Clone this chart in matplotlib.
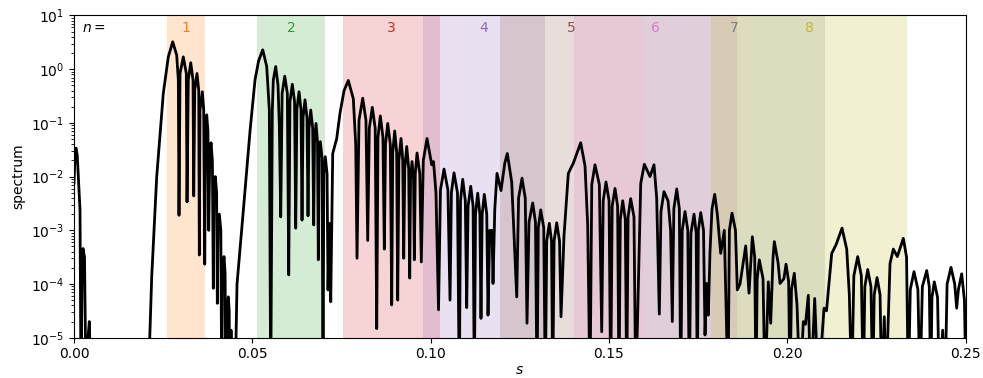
import numpy as np
import matplotlib
matplotlib.use("Agg")
from matplotlib import pyplot as plt
from matplotlib import transforms

# band edges (s) for each n
band_n = [1, 2, 3, 4, 5, 6, 7, 8]
band_lo = [0.0261, 0.0513, 0.0754, 0.0979, 0.1195, 0.1402, 0.1596, 0.1786]
band_hi = [0.0367, 0.0704, 0.1026, 0.1321, 0.1596, 0.1859, 0.2106, 0.2336]
band_colors = ['C1', 'C2', 'C3', 'C4', 'C5', 'C6', 'C7', 'C8']

# spectrum: s and log10(spectrum); -6 = below the axis
s = [0.0, 0.0003, 0.00056, 0.0009, 0.00121, 0.00168, 0.00196, 0.00224, 0.00252, 0.00294, 0.00337, 0.00393, 0.00429, 0.00477,
     0.02075, 0.02179, 0.02319, 0.02504, 0.02644, 0.02768, 0.02880, 0.02925, 0.02944,
     0.02973, 0.03065, 0.03149, 0.03169, 0.03205, 0.03273, 0.03337, 0.03357,
     0.03385, 0.03449, 0.03497, 0.03514, 0.03533, 0.03598, 0.03637, 0.03665,
     0.03693, 0.03721, 0.03755, 0.03777, 0.03805, 0.03842, 0.03880, 0.03906,
     0.03925, 0.03962, 0.03999, 0.04019, 0.04038, 0.04075, 0.04117, 0.04142,
     0.04164, 0.04206, 0.04237, 0.04254, 0.04300, 0.04327, 0.04352, 0.04366, 0.04403, 0.04445,
     0.04515, 0.04571, 0.04739, 0.04936, 0.05076, 0.05174, 0.05292, 0.05404, 0.05477, 0.05516,
     0.05561, 0.05589, 0.05656, 0.05721, 0.05758, 0.05797,
     0.05836, 0.05909, 0.05982, 0.06021, 0.06056, 0.06122, 0.06184, 0.06217,
     0.06250, 0.06310, 0.06365, 0.06394, 0.06423, 0.06478, 0.06533, 0.06562,
     0.06589, 0.06638, 0.06693, 0.06722, 0.06744, 0.06786, 0.06828, 0.06851,
     0.06871, 0.06907, 0.06956, 0.06983, 0.07005, 0.07047, 0.07096, 0.07123, 0.07159, 0.07199,
     0.07255, 0.07367, 0.07459, 0.07572, 0.07692, 0.07832, 0.07900, 0.07936,
     0.07992, 0.08096, 0.08187, 0.08236, 0.08281, 0.08365, 0.08446, 0.08489,
     0.08524, 0.08590, 0.08663, 0.08702, 0.08735, 0.08797, 0.08870, 0.08909,
     0.08938, 0.08993, 0.09048, 0.09077, 0.09110, 0.09170, 0.09219, 0.09246,
     0.09275, 0.09330, 0.09385, 0.09414, 0.09437, 0.09479, 0.09521, 0.09543,
     0.09570, 0.09619, 0.09697, 0.09739, 0.09795, 0.09899, 0.10031, 0.10081, 0.10150, 0.10222,
     0.10276, 0.10376, 0.10485, 0.10544, 0.10583, 0.10656, 0.10753, 0.10805,
     0.10838, 0.10900, 0.10973, 0.11012, 0.11051, 0.11125, 0.11191, 0.11226,
     0.11259, 0.11321, 0.11381, 0.11413, 0.11446, 0.11506, 0.11574, 0.11610,
     0.11657, 0.11694, 0.11722, 0.11750, 0.11800, 0.11862, 0.11974, 0.12080, 0.12151, 0.12274, 0.12348, 0.12415,
     0.12467, 0.12563, 0.12654, 0.12703, 0.12759, 0.12863, 0.12941, 0.12984,
     0.13020, 0.13088, 0.13172, 0.13217, 0.13256, 0.13329, 0.13391, 0.13424,
     0.13463, 0.13536, 0.13615, 0.13657, 0.13741, 0.13862, 0.14002, 0.14209, 0.14330, 0.14405, 0.14470,
     0.14519, 0.14610, 0.14732, 0.14798, 0.14840, 0.14919, 0.15004, 0.15050,
     0.15092, 0.15171, 0.15244, 0.15283, 0.15319, 0.15387, 0.15460, 0.15499,
     0.15538, 0.15611, 0.15703, 0.15752, 0.15802, 0.15892, 0.15993, 0.16153, 0.16265, 0.16340, 0.16414,
     0.16460, 0.16545, 0.16658, 0.16730, 0.16778,
     0.16821, 0.16902, 0.16975, 0.17014, 0.17056, 0.17134, 0.17212, 0.17255,
     0.17301, 0.17387, 0.17447, 0.17479, 0.17509, 0.17575, 0.17653, 0.17695, 0.17743, 0.17788,
     0.17835, 0.17891, 0.17967, 0.18040, 0.18135, 0.18236, 0.18340,
     0.18379, 0.18452, 0.18549, 0.18601, 0.18677, 0.18836, 0.18929, 0.19022, 0.19089, 0.19125,
     0.19158, 0.19218, 0.19322, 0.19378, 0.19470, 0.19537, 0.19603, 0.19639, 0.19743, 0.19798,
     0.19908, 0.19967, 0.20040, 0.20079, 0.20120, 0.20199, 0.20275, 0.20359,
     0.20452, 0.20513, 0.20592, 0.20659, 0.20771, 0.20872, 0.21032, 0.21102,
     0.21248, 0.21369, 0.21537, 0.21669, 0.21742, 0.21809,
     0.21868, 0.21977, 0.22079, 0.22134, 0.22177, 0.22258, 0.22349, 0.22398,
     0.22440, 0.22519, 0.22604, 0.22650, 0.22723, 0.22771,
     0.22883, 0.22976, 0.23088, 0.23256, 0.23347, 0.23396,
     0.23452, 0.23556, 0.23665, 0.23724, 0.23790, 0.23912, 0.23985, 0.24024,
     0.24059, 0.24125, 0.24216, 0.24265, 0.24360, 0.24425,
     0.24484, 0.24593, 0.24697, 0.24753, 0.24802, 0.24893, 0.24970, 0.25014]

log_spec = [-2.12, -1.55, -1.47, -1.6, -2.0, -2.62, -6, -3.9, -3.34, -3.5, -6, -5.0, -4.70, -6,
            -6, -3.86, -2.0, -0.45, 0.23, 0.51, 0.26, -0.20, -2.72,
            -0.08, 0.23, -0.08, -2.47, -0.2, 0.12, -0.2, -2.36,
            -0.39, -0.08, -0.39, -3.46, -0.76, -0.42, -0.76, -3.63,
            -1.13, -0.85, -1.15, -3.0, -1.7, -1.37, -1.7, -4.08,
            -2.3, -2.0, -2.3, -4.36, -3.0, -2.70, -3.0, -6,
            -3.8, -3.49, -3.8, -6, -4.5, -4.24, -4.5, -6, -4.86, -6,
            -6, -4.0, -2.7, -1.15, -0.2, 0.15, 0.36, 0.05, -0.76, -6,
            -0.76, -0.2, 0.05, -0.3, -1.07, -2.75,
            -0.45, -0.13, -0.45, -3.83, -0.6, -0.28, -0.6, -2.96,
            -0.75, -0.42, -0.75, -2.81, -0.9, -0.57, -0.9, -2.73,
            -1.1, -0.76, -1.1, -2.90, -1.35, -1.01, -1.35, -3.55,
            -1.65, -1.35, -1.65, -6, -1.95, -1.63, -1.95, -4.11, -2.87, -4.33,
            -1.57, -1.29, -0.82, -0.4, -0.21, -0.55, -1.4, -3.52,
            -0.95, -0.54, -0.95, -3.19, -1.1, -0.71, -1.1, -4.83,
            -1.27, -0.87, -1.27, -3.35, -1.4, -1.01, -1.4, -4.39,
            -1.55, -1.15, -1.55, -4.30, -1.7, -1.29, -1.7, -3.52,
            -1.85, -1.44, -1.85, -3.89, -2.05, -1.72, -2.05, -3.55,
            -1.95, -1.56, -1.95, -3.59, -1.7, -1.29, -1.78, -1.72, -2.3, -4.48,
            -2.25, -1.86, -2.25, -4.30, -2.3, -1.93, -2.3, -6,
            -2.45, -2.05, -2.45, -4.44, -2.55, -2.18, -2.55, -6,
            -2.7, -2.31, -2.7, -4.64, -2.7, -2.33, -2.7, -4.58,
            -3.0, -3.2, -3.0, -3.99, -2.6, -1.94, -2.26, -1.75, -1.57, -2.1, -3.2, -4.24,
            -2.4, -2.03, -2.4, -4.73, -2.85, -2.49, -2.85, -6,
            -2.95, -2.62, -2.95, -6, -3.2, -2.87, -3.2, -6,
            -3.2, -2.86, -3.2, -4.61, -3.1, -1.94, -1.75, -1.37, -1.8, -2.9, -6,
            -2.15, -1.78, -2.15, -4.89, -2.45, -2.10, -2.45, -6,
            -2.55, -2.22, -2.55, -6, -2.8, -2.45, -2.8, -6,
            -2.75, -2.41, -2.75, -6, -4.7, -2.13, -1.77, -2.0, -1.78, -2.4, -4.56,
            -2.65, -2.28, -2.45, -3.0, -4.70,
            -2.6, -2.23, -2.6, -6, -3.0, -2.65, -3.0, -6,
            -3.05, -2.70, -3.05, -6, -3.0, -2.67, -3.0, -4.95, -3.99, -4.58,
            -3.4, -2.6, -2.33, -2.7, -3.43, -3.0, -6,
            -3.0, -2.68, -3.0, -4.11, -4.0, -3.29, -4.17, -3.12, -3.5, -6,
            -3.9, -3.55, -3.9, -6, -3.96, -4.73, -3.5, -3.21, -3.6, -3.99,
            -3.9, -3.63, -3.95, -6, -4.1, -3.80, -4.39, -6,
            -4.70, -4.75, -4.21, -6, -4.27, -6, -4.45, -4.5,
            -3.43, -3.27, -2.96, -3.35, -4.2, -6,
            -3.85, -3.49, -3.85, -6, -4.05, -3.73, -4.05, -6,
            -4.2, -3.88, -4.2, -6, -4.61, -6,
            -3.62, -3.35, -3.49, -3.15, -3.5, -6,
            -4.1, -3.77, -4.1, -6, -4.05, -3.75, -4.05, -6,
            -4.25, -3.96, -4.25, -6, -4.86, -6,
            -4.0, -3.69, -4.0, -4.45, -4.1, -3.81, -4.3, -6]

spectrum = 10.0 ** np.array(log_spec)

fig = plt.figure(figsize=(9.83, 3.78), dpi=100)
ax = fig.add_axes([0.0753, 0.1066, 0.9069, 0.8524])

trans = transforms.blended_transform_factory(ax.transData, ax.transAxes)
for n, lo, hi, c in zip(band_n, band_lo, band_hi, band_colors):
    ax.axvspan(lo, hi, color=c, alpha=0.2, lw=0)
    ax.text((lo + hi) / 2, 0.96, str(n), color=c, transform=trans,
            ha='center', va='center', fontsize=10)
ax.text(0.009, 0.96, '$n=$', transform=ax.transAxes, ha='left', va='center', fontsize=10)

ax.plot(s, spectrum, color='black', lw=2)

ax.set_yscale('log')
ax.set_xlim(0, 0.25)
ax.set_ylim(1e-5, 1e1)
ax.set_xticks([0.0, 0.05, 0.10, 0.15, 0.20, 0.25])
ax.set_xticklabels(['0.00', '0.05', '0.10', '0.15', '0.20', '0.25'])
ax.set_xlabel('$s$', labelpad=1)
ax.set_ylabel('spectrum')

fig.savefig('out.png', dpi=100)
